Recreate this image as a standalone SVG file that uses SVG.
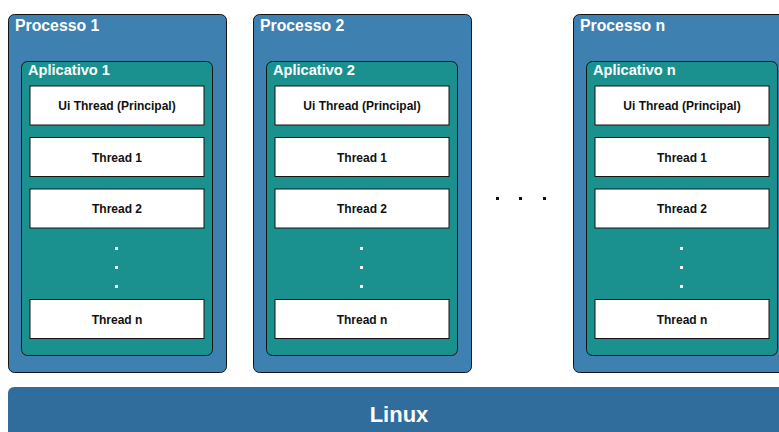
<svg xmlns="http://www.w3.org/2000/svg" width="779" height="432" viewBox="0 0 779 432">
<style>
.proc{fill:#3e81b1;stroke:#141414;stroke-width:1}
.app{fill:#1b918f;stroke:#141414;stroke-width:1}
.thr{fill:#ffffff;stroke:#141414;stroke-width:1}
.ptitle{font-family:"Liberation Sans",Arial,sans-serif;font-weight:bold;font-size:15.8px;fill:#ffffff}
.atitle{font-family:"Liberation Sans",Arial,sans-serif;font-weight:bold;font-size:14.6px;fill:#ffffff}
.ttext{font-family:"Liberation Sans",Arial,sans-serif;font-weight:bold;font-size:12px;fill:#111111;text-anchor:middle}
.wdot{fill:#ffffff}
.bdot{fill:#111111}
.linux{fill:#306c9c}
.ltext{font-family:"Liberation Sans",Arial,sans-serif;font-weight:bold;font-size:22px;fill:#ffffff;text-anchor:middle}
</style>
<defs>
<g id="column">
<rect class="proc" x="8.5" y="14.5" width="218" height="358" rx="6"/>
<rect class="app" x="21.5" y="61.5" width="191" height="294" rx="6"/>
<rect class="thr" x="30" y="86" width="174" height="39"/>
<rect class="thr" x="30" y="137.5" width="174" height="39"/>
<rect class="thr" x="30" y="189" width="174" height="39"/>
<rect class="thr" x="30" y="299.5" width="174" height="39"/>
<text class="ttext" x="117" y="110">Ui Thread (Principal)</text>
<text class="ttext" x="117" y="161.5">Thread 1</text>
<text class="ttext" x="117" y="213">Thread 2</text>
<text class="ttext" x="117" y="323.5">Thread n</text>
<rect class="wdot" x="115" y="247" width="3" height="3"/>
<rect class="wdot" x="115" y="266" width="3" height="3"/>
<rect class="wdot" x="115" y="285" width="3" height="3"/>
</g>
</defs>
<g id="processo1">
<use href="#column"/>
<text class="ptitle" x="15" y="31">Processo 1</text>
<text class="atitle" x="28" y="74.5">Aplicativo 1</text>
</g>
<g id="processo2" transform="translate(245,0)">
<use href="#column"/>
<text class="ptitle" x="15" y="31">Processo 2</text>
<text class="atitle" x="28" y="74.5">Aplicativo 2</text>
</g>
<g id="processon" transform="translate(565,0)">
<use href="#column"/>
<text class="ptitle" x="15" y="31">Processo n</text>
<text class="atitle" x="28" y="74.5">Aplicativo n</text>
</g>
<g id="ellipsis">
<rect class="bdot" x="496" y="197" width="3" height="3"/>
<rect class="bdot" x="519" y="197" width="3" height="3"/>
<rect class="bdot" x="543" y="197" width="3" height="3"/>
</g>
<g id="linux">
<rect class="linux" x="8" y="387" width="790" height="60" rx="6"/>
<text class="ltext" x="399" y="421.5">Linux</text>
</g>
<g id="connectors"/>
</svg>
